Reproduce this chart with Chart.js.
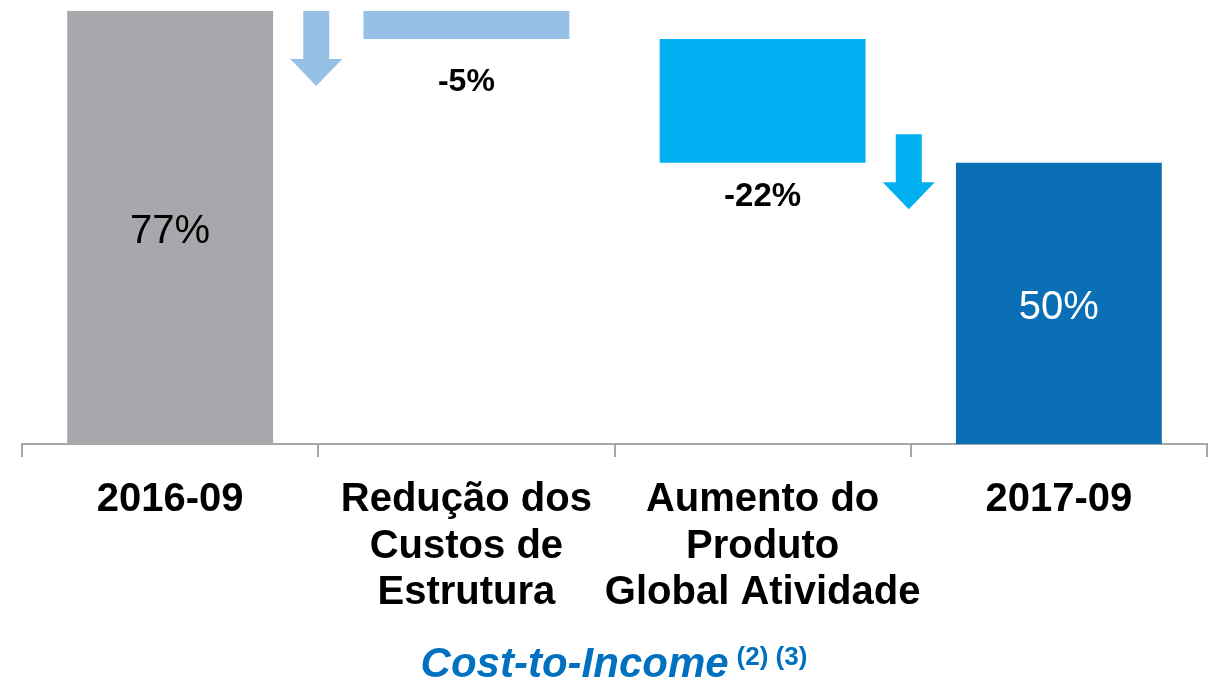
<!DOCTYPE html>
<html>
<head>
<meta charset="utf-8">
<script src="https://cdn.jsdelivr.net/npm/chart.js@4.4.0/dist/chart.umd.min.js"></script>
<style>
	body { margin: 0; background: #fff; }
	#wrap { width: 1213px; height: 684px; }
</style>
</head>
<body>
<div id="wrap"><canvas id="ctiChart" width="1213" height="684"></canvas></div>
<script>
// chart data
var categories = ['2016-09', ['Redução dos', 'Custos de', 'Estrutura'], ['Aumento do', 'Produto', 'Global Atividade'], '2017-09'];
var startValue = 77;
var changes = [-5, -22];
var endValue = 50;
var barColors = ['#A7A8AB', '#97C0E6', '#00B0F0', '#0B6FB6'];

// builds floating bars [from, to] for the waterfall
function buildBars(){
	var bars = [[0, startValue]];
	var level = startValue;
	for (var i = 0; i < changes.length; i++){
		var next = level + changes[i];
		bars.push([Math.min(level, next), Math.max(level, next)]);
		level = next;
	}
	bars.push([0, endValue]);
	return bars;
}

var FONT = "'Liberation Sans', Arial, sans-serif";

// value labels, arrows and bottom title
var decoPlugin = {
	id: 'deco',
	afterDatasetsDraw: function(chart){
		var ctx = chart.ctx;
		var meta = chart.getDatasetMeta(0);
		var y = chart.scales.y;
		var last = meta.data.length - 1;
		ctx.save();
		ctx.textAlign = 'center';
		ctx.textBaseline = 'middle';

		// totals inside first and last bars
		ctx.font = '40px ' + FONT;
		ctx.fillStyle = '#000';
		var b0 = meta.data[0];
		ctx.fillText(startValue + '%', b0.x, (b0.y + b0.base) / 2 + 4);
		ctx.fillStyle = '#fff';
		var bl = meta.data[last];
		ctx.fillText(endValue + '%', bl.x, (bl.y + bl.base) / 2 + 5);

		// change labels under the floating bars
		var offsets = [43, 34];
		var sizes = [32, 33];
		ctx.fillStyle = '#000';
		for (var i = 0; i < changes.length; i++){
			var bar = meta.data[i + 1];
			ctx.font = 'bold ' + sizes[i] + 'px ' + FONT;
			ctx.fillText(changes[i] + '%', bar.x, Math.max(bar.y, bar.base) + offsets[i]);
		}

		// down arrows on the category boundaries
		var arrowAfter = [0, 2];
		var arrowTops = [77, 55.1];
		for (var j = 0; j < arrowAfter.length; j++){
			var left = meta.data[arrowAfter[j]], right = meta.data[arrowAfter[j] + 1];
			var cx = (left.x + right.x) / 2 - 2;
			var top = y.getPixelForValue(arrowTops[j]);
			var shaft = 13, head = 26, len = 75, headLen = 27;
			ctx.fillStyle = barColors[j + 1];
			ctx.beginPath();
			ctx.moveTo(cx - shaft, top);
			ctx.lineTo(cx + shaft, top);
			ctx.lineTo(cx + shaft, top + len - headLen);
			ctx.lineTo(cx + head, top + len - headLen);
			ctx.lineTo(cx, top + len);
			ctx.lineTo(cx - head, top + len - headLen);
			ctx.lineTo(cx - shaft, top + len - headLen);
			ctx.closePath();
			ctx.fill();
		}

		// title with footnote marks
		var title = 'Cost-to-Income';
		var notes = '(2) (3)';
		ctx.textAlign = 'left';
		ctx.textBaseline = 'alphabetic';
		ctx.font = 'italic bold 42px ' + FONT;
		var tw = ctx.measureText(title).width;
		ctx.font = 'bold 26px ' + FONT;
		var nw = ctx.measureText(notes).width;
		var gap = 8;
		var sx = 614 - (tw + gap + nw) / 2;
		ctx.fillStyle = '#0070C0';
		ctx.font = 'italic bold 42px ' + FONT;
		ctx.fillText(title, sx, 677);
		ctx.font = 'bold 26px ' + FONT;
		ctx.fillText(notes, sx + tw + gap, 665);
		ctx.restore();
	}
};

var ctx = document.getElementById('ctiChart').getContext('2d');
var myChart = new Chart(ctx, {
	type: 'bar',
	data: {
		labels: categories,
		datasets: [{
			label: 'Cost-to-Income',
			data: buildBars(),
			backgroundColor: barColors,
			borderWidth: 0,
			categoryPercentage: 1,
			barPercentage: 0.695
		}]
	},
	options: {
		responsive: false,
		animation: false,
		layout: { padding: { top: 11, left: 22, right: 6, bottom: 0 } },
		plugins: {
			legend: { display: false },
			tooltip: { enabled: false }
		},
		scales: {
			y: {
				display: false,
				min: 0,
				max: 77
			},
			x: {
				grid: { offset: true, drawOnChartArea: false, drawTicks: true, tickLength: 13, color: '#A6A6A6', lineWidth: 2 },
				border: { display: true, color: '#A6A6A6', width: 2 },
				ticks: {
					color: '#000',
					padding: 20,
					maxRotation: 0,
					autoSkip: false,
					font: { family: FONT, size: 40, weight: 'bold', lineHeight: 1.16 }
				},
				afterFit: function(scale){ scale.height = 240; }
			}
		}
	},
	plugins: [decoPlugin]
});
</script>
</body>
</html>
